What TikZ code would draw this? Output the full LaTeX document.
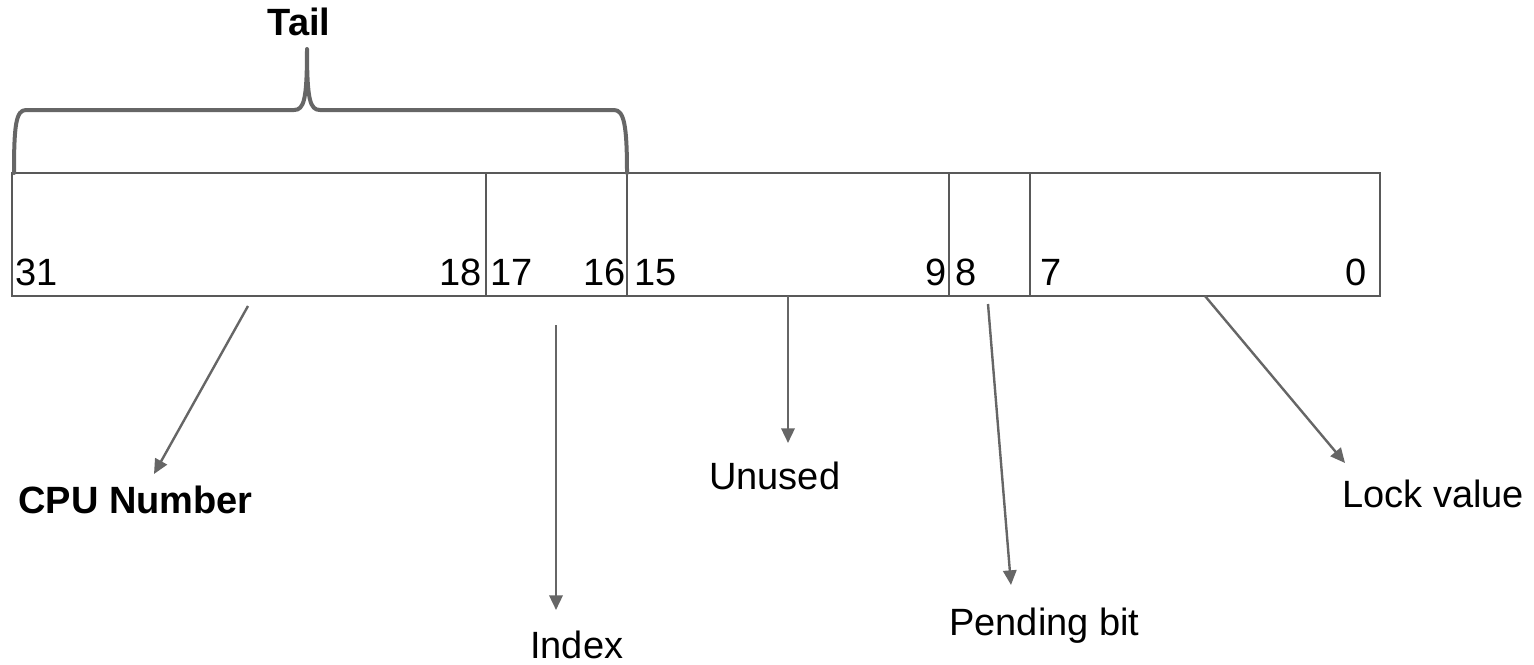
\documentclass[tikz,border=0pt]{standalone}
\usepackage{fontspec}
\setmainfont{Liberation Sans}
\usetikzlibrary{arrows.meta,fit}
\definecolor{boxc}{HTML}{595959}
\definecolor{arrc}{HTML}{666666}
\begin{document}
\begin{tikzpicture}[x=0.75pt,y=-0.75pt,
  field/.style={draw=boxc,line width=1.5pt,inner sep=0pt},
  arr/.style={draw=arrc,line width=1.8pt,-{Triangle[length=11pt,width=10pt]}},
  brace/.style={draw=arrc,line width=3pt,line join=round,line cap=round},
  num/.style={inner sep=0pt,font=\fontsize{28.5}{34}\selectfont},
  lbl/.style={inner sep=0pt,font=\fontsize{28.5}{34}\selectfont,anchor=base west},
  blbl/.style={lbl,font=\fontsize{28.5}{34}\selectfont\bfseries}]
\useasboundingbox (0,0) rectangle (1534,664);
% fields
\node[field,fit={(12,173) (486,296)}] (f1) {};
\node[field,fit={(486,173) (627,296)}] (f2) {};
\node[field,fit={(627,173) (949,296)}] (f3) {};
\node[field,fit={(949,173) (1030,296)}] (f4) {};
\node[field,fit={(1030,173) (1380,296)}] (f5) {};
% bit numbers
\node[num,anchor=base west] (n31) at (15,285) {31};
\node[num,anchor=base east] (n18) at (482,285) {18};
\node[num,anchor=base west] (n17) at (490,285) {17};
\node[num,anchor=base east] (n16) at (626,285) {16};
\node[num,anchor=base west] (n15) at (634,285) {15};
\node[num,anchor=base east] (n9) at (947,285) {9};
\node[num,anchor=base west] (n8) at (955,285) {8};
\node[num,anchor=base west] (n7) at (1040,285) {7};
\node[num,anchor=base east] (n0) at (1367,285) {0};
% brace
\draw[brace] (14,173) .. controls (14,125) and (16,110) .. (26,110) -- (294,110)
  .. controls (304,110) and (307,100) .. (307,49)
  .. controls (307,100) and (310,110) .. (320,110) -- (614,110)
  .. controls (624,110) and (627,125) .. (627,173);
% labels
\node[blbl,anchor=base] (tail) at (299,35) {Tail};
\node[blbl] (cpu) at (18,513) {CPU Number};
\node[lbl] (index) at (530,658) {Index};
\node[lbl] (unused) at (709,489) {Unused};
\node[lbl] (pending) at (949,635) {Pending bit};
\node[lbl] (lock) at (1342,507) {Lock value};
% arrow ends
\coordinate (cpuS) at (248,306);
\coordinate (cpuT) at (154,474);
\coordinate (idxS) at (556,325);
\coordinate (idxT) at (556,610);
\coordinate (unS) at (788,296);
\coordinate (unT) at (788,443);
\coordinate (penS) at (988,304);
\coordinate (penT) at (1011,585);
\coordinate (lockS) at (1205,296);
\coordinate (lockT) at (1345,463);
\draw[arr] (cpuS) -- (cpuT);
\draw[arr] (idxS) -- (idxT);
\draw[arr] (unS) -- (unT);
\draw[arr] (penS) -- (penT);
\draw[arr] (lockS) -- (lockT);
\end{tikzpicture}
\end{document}
